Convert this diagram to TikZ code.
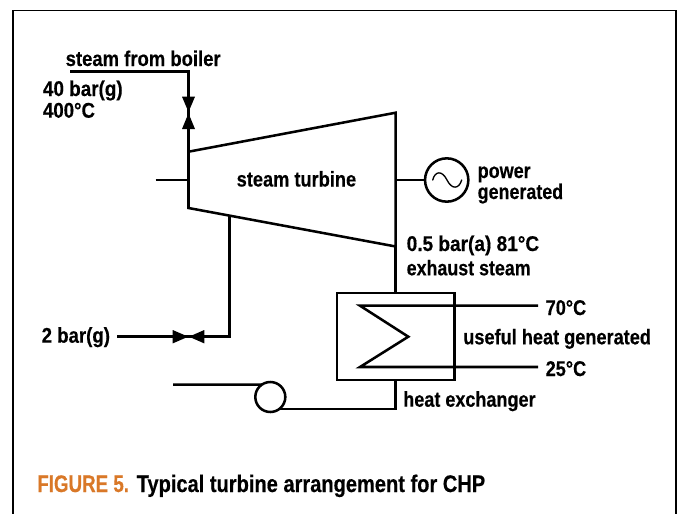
\documentclass[tikz,border=0pt]{standalone}
\usepackage{graphicx}
\usepackage{fontspec}
\setmainfont[BoldFeatures={FakeBold=0.4}]{Liberation Sans}
\definecolor{figorange}{RGB}{217,120,40}
\newcommand{\Tx}[2]{\resizebox{#1\dimexpr0.75pt\relax}{\height}{#2}}
\tikzset{x=0.75pt,y=-0.75pt,
 pipe/.style={draw=black,line width=1.9pt,line join=miter},
 lbl/.style={inner sep=0pt,outer sep=0pt,anchor=base west,text=black,yshift=-0.75pt,font=\fontsize{16}{18}\selectfont\bfseries},
 captext/.style={lbl,font=\fontsize{18}{20}\selectfont\bfseries},
 tip/.style={fill=black,draw=none},
 ring/.style={circle,draw=black,line width=1.9pt,inner sep=0pt,outer sep=0pt,fill=white}}
\begin{document}
\begin{tikzpicture}
\useasboundingbox (0,0) rectangle (682,514);
% frame, open at the bottom
\coordinate (fa) at (13,514);
\coordinate (fb) at (13,10.5);
\coordinate (fc) at (676,10.5);
\coordinate (fd) at (676,514);
\draw[black,line width=1.2pt] (fa) -- (fb) -- (fc) -- (fd);
% turbine
\coordinate (tl1) at (188.5,151.7);
\coordinate (tr1) at (395.7,112.7);
\coordinate (tr2) at (395.7,246.5);
\coordinate (tl2) at (188.5,208);
\coordinate (bleed) at (229.3,215.6);
\coordinate (shaft) at (155.7,180);
\coordinate (shaftin) at (188.5,180);
\coordinate (shaftout) at (395.7,180);
% steam inlet
\coordinate (sb) at (70,71.7);
\coordinate (sc) at (188.5,71.7);
% heat exchanger
\node[draw=black,line width=1.9pt,minimum width=87.8pt,minimum height=65.2pt,inner sep=0pt,outer sep=0pt] (hx) at (395.7,336.5) {};
\coordinate (c70) at (538,305.7);
\coordinate (c25) at (538,367);
\coordinate (ctop) at (360,305.7);
\coordinate (cmid) at (408.3,336.7);
\coordinate (cbot) at (360,367);
% generator and pump
\node[ring,minimum size=32.5pt] (gen) at (446.7,180) {};
\node[ring,minimum size=22.5pt] (pump) at (270.3,397) {};
\coordinate (pumpin) at (173,384.6);
% extraction
\coordinate (ex0) at (116.7,336.7);
\coordinate (ex1) at (229.3,336.7);
% connectors
\draw[pipe] (tl1) -- (tr1) -- (tr2) -- (tl2) -- cycle;
\draw[pipe] (sb) -- (sc) -- (tl1);
\draw[pipe] (shaft) -- (shaftin);
\draw[pipe] (shaftout) -- (gen.west);
\draw[pipe] (tr2) -- (hx.north);
\draw[pipe] (bleed) -- (ex1) -- (ex0);
\draw[pipe] (c70) -- (ctop) -- (cmid) -- (cbot) -- (c25);
\draw[pipe] (hx.south) |- (pump.-52);
\draw[pipe] (pumpin) -- (pump.124);
% sine in generator
\coordinate (s0) at (432.7,180);
\coordinate (s1) at (447,180);
\coordinate (s2) at (461.7,180);
\draw[black,line width=1pt,line cap=round] (s0) .. controls (435,171) and (442,170) .. (s1) .. controls (452,190) and (459,189) .. (s2);
% valves
\fill[tip] (182,96.7) -- (195,96.7) -- (188.5,112) -- cycle;
\fill[tip] (182,129) -- (195,129) -- (188.5,113.3) -- cycle;
\fill[tip] (172.7,330) -- (172.7,343.4) -- (188.2,336.7) -- cycle;
\fill[tip] (204.3,330) -- (204.3,343.4) -- (189,336.7) -- cycle;
% labels
\node[lbl] (t1) at (65.7,65) {\Tx{155}{steam from boiler}};
\node[lbl] (t2) at (43,95) {\Tx{79.7}{40 bar(g)}};
\node[lbl] (t3) at (43,116.7) {\Tx{52}{400°C}};
\node[lbl] (t4) at (236.7,185.5) {\Tx{119.5}{steam turbine}};
\node[lbl] (t5) at (477.7,177) {\Tx{53}{power}};
\node[lbl] (t6) at (477.7,198) {\Tx{85.5}{generated}};
\node[lbl] (t7) at (406.7,250) {\Tx{132.5}{0.5 bar(a) 81°C}};
\node[lbl] (t8) at (406.7,274.3) {\Tx{124}{exhaust steam}};
\node[lbl] (t9) at (545.7,314) {\Tx{40.5}{70°C}};
\node[lbl] (t10) at (463.3,343.3) {\Tx{187.7}{useful heat generated}};
\node[lbl] (t11) at (545.7,375) {\Tx{40.5}{25°C}};
\node[lbl] (t12) at (403.3,405.7) {\Tx{132.3}{heat exchanger}};
\node[lbl] (t13) at (41.7,341.7) {\Tx{68.3}{2 bar(g)}};
\node[captext,text=figorange] (c1) at (37.3,491) {\Tx{91.7}{FIGURE 5.}};
\node[captext] (c2) at (136.7,491) {\Tx{348.5}{Typical turbine arrangement for CHP}};
\end{tikzpicture}
\end{document}
